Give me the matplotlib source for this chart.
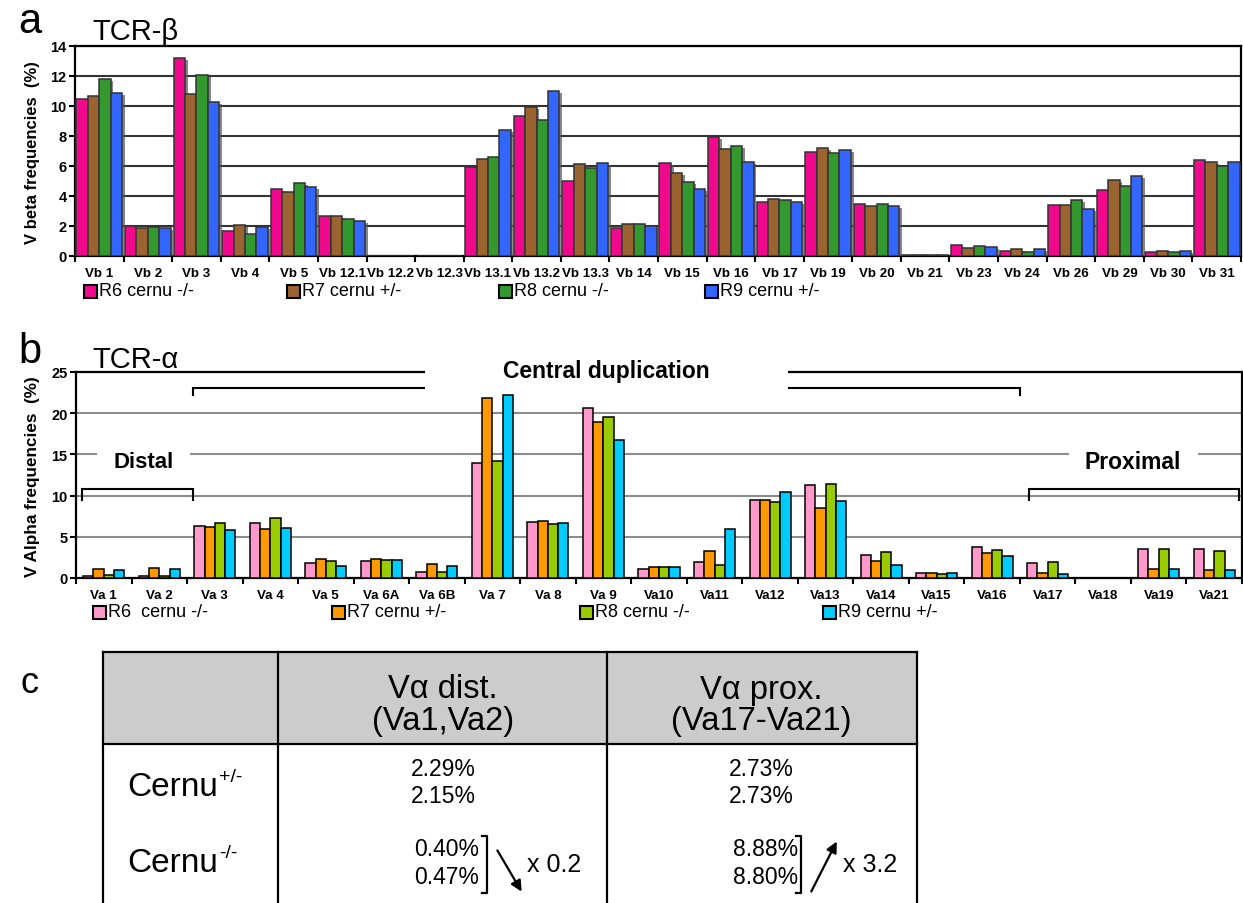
import matplotlib
matplotlib.use('Agg')
import matplotlib.pyplot as plt
import matplotlib.patheffects as pe
from matplotlib.patches import Rectangle
from matplotlib.lines import Line2D
import numpy as np

plt.rcParams['font.family'] = ['Liberation Sans', 'DejaVu Sans']

W, H = 1243, 904

# ---- данные панели a (TCR-beta) ----
vb_labels = ['Vb 1', 'Vb 2', 'Vb 3', 'Vb 4', 'Vb 5', 'Vb 12.1', 'Vb 12.2', 'Vb 12.3',
             'Vb 13.1', 'Vb 13.2', 'Vb 13.3', 'Vb 14', 'Vb 15', 'Vb 16', 'Vb 17', 'Vb 19',
             'Vb 20', 'Vb 21', 'Vb 23', 'Vb 24', 'Vb 26', 'Vb 29', 'Vb 30', 'Vb 31']
vb_r6 = [10.5, 2.0, 13.2, 1.7, 4.44, 2.67, 0, 0, 5.93, 9.31, 4.98, 1.87, 6.18, 7.93, 3.62, 6.96,
         3.47, 0.05, 0.76, 0.33, 3.4, 4.42, 0.27, 6.38]
vb_r7 = [10.7, 1.9, 10.8, 2.07, 4.29, 2.69, 0, 0, 6.44, 9.93, 6.16, 2.11, 5.56, 7.16, 3.78, 7.2,
         3.33, 0.05, 0.56, 0.44, 3.4, 5.07, 0.31, 6.29]
vb_r8 = [11.8, 1.95, 12.1, 1.5, 4.84, 2.49, 0, 0, 6.58, 9.04, 5.89, 2.11, 4.93, 7.33, 3.71, 6.84,
         3.44, 0.05, 0.67, 0.29, 3.76, 4.69, 0.24, 5.98]
vb_r9 = [10.9, 1.87, 10.3, 1.93, 4.6, 2.36, 0, 0, 8.42, 11.0, 6.18, 1.98, 4.44, 6.29, 3.62, 7.04,
         3.31, 0.05, 0.62, 0.44, 3.16, 5.36, 0.31, 6.29]
vb_names = ['R6 cernu -/-', 'R7 cernu +/-', 'R8 cernu -/-', 'R9 cernu +/-']
vb_colors = ['#F0098C', '#9A6330', '#33992F', '#3366FF']

# ---- данные панели b (TCR-alpha) ----
va_labels = ['Va 1', 'Va 2', 'Va 3', 'Va 4', 'Va 5', 'Va 6A', 'Va 6B', 'Va 7', 'Va 8', 'Va 9',
             'Va10', 'Va11', 'Va12', 'Va13', 'Va14', 'Va15', 'Va16', 'Va17', 'Va18', 'Va19', 'Va21']
va_r6 = [0.24, 0.24, 6.27, 6.67, 1.86, 2.1, 0.73, 14.0, 6.84, 20.6, 1.05, 1.98, 9.43, 11.3,
         2.75, 0.61, 3.8, 1.82, 0.05, 3.48, 3.48]
va_r7 = [1.05, 1.21, 6.23, 5.99, 2.27, 2.31, 1.66, 21.8, 6.96, 18.9, 1.33, 3.24, 9.51, 8.54,
         2.1, 0.57, 3.03, 0.65, 0.05, 1.05, 0.93]
va_r8 = [0.32, 0.24, 6.63, 7.24, 2.1, 2.22, 0.73, 14.2, 6.6, 19.5, 1.33, 1.62, 9.18, 11.4,
         3.2, 0.53, 3.44, 1.9, 0.05, 3.48, 3.32]
va_r9 = [0.93, 1.13, 5.83, 6.07, 1.5, 2.22, 1.46, 22.2, 6.67, 16.8, 1.33, 5.99, 10.4, 9.31,
         1.58, 0.65, 2.67, 0.53, 0.05, 1.09, 0.97]
va_names = ['R6  cernu -/-', 'R7 cernu +/-', 'R8 cernu -/-', 'R9 cernu +/-']
va_colors = ['#FF99CC', '#FF9900', '#99CC00', '#00CCFF']

# ---- таблица c ----
tab_rows = ['Cernu', 'Cernu']
tab_sup = ['+/-', '-/-']
dist_het = ['2.29%', '2.15%']
dist_ko = ['0.40%', '0.47%']
prox_het = ['2.73%', '2.73%']
prox_ko = ['8.88%', '8.80%']


def fx(px):
    return px / W


def fy(py):
    return 1 - py / H


fig = plt.figure(figsize=(W / 100, H / 100), dpi=100)


def bar_panel(box, labels, series, colors, ymax, ystep, bw, edge, gridc, shadow):
    l, t, r, b = box
    ax = fig.add_axes([fx(l), fy(b), fx(r - l), (b - t) / H])
    n = len(labels)
    x = np.arange(n)
    for k, (vals, c) in enumerate(zip(series, colors)):
        bars = ax.bar(x + (k - 1.5) * bw, vals, bw, color=c, edgecolor=edge, linewidth=1.1, zorder=3)
        if shadow:
            for p in bars:
                p.set_path_effects([pe.SimplePatchShadow(offset=(2, -1.5), shadow_rgbFace='#555555', alpha=0.7),
                                    pe.Normal()])
    ax.set_xlim(-0.5, n - 0.5)
    ax.set_ylim(0, ymax)
    ticks = np.arange(0, ymax + 0.1, ystep)
    ax.set_yticks(ticks)
    ax.set_yticklabels([str(int(v)) for v in ticks], fontweight='bold', fontsize=10.5)
    ax.set_axisbelow(True)
    ax.yaxis.grid(True, color=gridc, linewidth=1.5, zorder=0)
    ax.set_xticks(np.arange(-0.5, n, 1.0))
    ax.set_xticklabels([])
    ax.set_xticks(x, minor=True)
    ax.set_xticklabels(labels, minor=True, fontweight='bold', fontsize=9.6)
    ax.tick_params(axis='x', which='major', direction='out', length=4, width=1.5)
    ax.tick_params(axis='x', which='minor', length=0, pad=8)
    ax.tick_params(axis='y', direction='out', length=4, width=1.5, pad=2)
    for s in ax.spines.values():
        s.set_linewidth(1.6)
        s.set_color('black')
    return ax


def legend_row(ypx, xs, names, colors):
    for xp, nm, c in zip(xs, names, colors):
        fig.add_artist(Rectangle((fx(xp), fy(ypx + 7)), fx(13), 13 / H, transform=fig.transFigure,
                                 facecolor=c, edgecolor='black', linewidth=1.5))
        fig.text(fx(xp + 15), fy(ypx), nm, fontsize=13, va='center', ha='left')


# ---- панель a ----
ax_a = bar_panel((75, 47, 1241, 257), vb_labels, [vb_r6, vb_r7, vb_r8, vb_r9], vb_colors,
                 14, 2, 0.235, '#333333', '#333333', True)
legend_row(292, [84, 287, 499, 705], vb_names, vb_colors)
fig.text(fx(18), fy(33), 'a', fontsize=30, va='baseline')
fig.text(fx(92), fy(40), 'TCR-β', fontsize=21, va='baseline')
fig.text(fx(33), fy(153), 'V beta frequencies  (%)', rotation=90, fontweight='bold',
         fontsize=12, ha='center', va='center')

# ---- панель b ----
ax_b = bar_panel((76, 373, 1242, 579), va_labels, [va_r6, va_r7, va_r8, va_r9], va_colors,
                 25, 5, 0.185, 'black', '#8C8C8C', False)
legend_row(613, [93, 332, 580, 823], va_names, va_colors)
fig.text(fx(18), fy(363), 'b', fontsize=30, va='baseline')
fig.text(fx(92), fy(368), 'TCR-α', fontsize=21, va='baseline')
fig.text(fx(33), fy(477), 'V Alpha frequencies  (%)', rotation=90, fontweight='bold',
         fontsize=12.3, ha='center', va='center')


def bracket(ax, x0, x1, y, ydrop):
    ax.plot([x0, x0, x1, x1], [y - ydrop, y, y, y - ydrop], color='black', lw=1.5,
            clip_on=False, zorder=4, solid_joinstyle='miter')


# белые подложки под подписями
ax_b.add_patch(Rectangle((-0.12, 13.0), 1.67, 3.0, facecolor='white', edgecolor='none', zorder=1))
ax_b.add_patch(Rectangle((17.39, 13.0), 2.32, 3.0, facecolor='white', edgecolor='none', zorder=1))
bracket(ax_b, -0.39, 1.61, 10.8, 1.3)
bracket(ax_b, 16.66, 20.45, 10.8, 1.3)
bracket(ax_b, 1.61, 16.5, 23.1, 0.9)
ax_b.add_patch(Rectangle((5.79, 22.3), 6.53, 4.2, facecolor='white', edgecolor='none',
                         zorder=5, clip_on=False))
ax_b.text(0.71, 14.1, 'Distal', fontsize=16, fontweight='bold', ha='center', va='center', zorder=6)
ax_b.text(18.54, 14.1, 'Proximal', fontsize=16.5, fontweight='bold', ha='center', va='center', zorder=6)
ax_b.text(9.05, 25.2, 'Central duplication', fontsize=16.5, fontweight='bold', ha='center',
          va='center', zorder=6, clip_on=False)

# ---- панель c (таблица) ----
fig.text(fx(20), fy(693), 'c', fontsize=26, va='baseline')
tl, tr, tt, th = 103, 917, 653, 745
fig.add_artist(Rectangle((fx(tl), fy(th)), fx(tr - tl), (th - tt) / H, transform=fig.transFigure,
                         facecolor='#CCCCCC', edgecolor='none'))
lk = dict(transform=fig.transFigure, color='black', linewidth=1.6)
fig.add_artist(Line2D([fx(tl), fx(tr)], [fy(tt), fy(tt)], **lk))
fig.add_artist(Line2D([fx(tl), fx(tr)], [fy(th), fy(th)], **lk))
for xp in [tl, 278, 607, tr]:
    fig.add_artist(Line2D([fx(xp), fx(xp)], [fy(tt), fy(H + 5)], **lk))

fig.text(fx(443), fy(690), 'Vα dist.', fontsize=23.5, ha='center', va='center')
fig.text(fx(443), fy(722), '(Va1,Va2)', fontsize=23.5, ha='center', va='center')
fig.text(fx(761), fy(690), 'Vα prox.', fontsize=23.5, ha='center', va='center')
fig.text(fx(761), fy(722), '(Va17-Va21)', fontsize=23.5, ha='center', va='center')
for yp, nm, sp in zip([788, 864], tab_rows, tab_sup):
    fig.text(fx(218), fy(yp), nm, fontsize=24, ha='right', va='center')
    fig.text(fx(219), fy(yp - 10), sp, fontsize=14, ha='left', va='center')

for i, yp in enumerate([770, 797]):
    fig.text(fx(443), fy(yp), dist_het[i], fontsize=16.5, ha='center', va='center')
    fig.text(fx(761), fy(yp), prox_het[i], fontsize=16.5, ha='center', va='center')
for i, yp in enumerate([850, 878]):
    fig.text(fx(479), fy(yp), dist_ko[i], fontsize=16.5, ha='right', va='center')
    fig.text(fx(798), fy(yp), prox_ko[i], fontsize=16.5, ha='right', va='center')

for xb in [487, 801]:
    fig.add_artist(Line2D([fx(xb - 5), fx(xb), fx(xb), fx(xb - 5)], [fy(837), fy(837), fy(894), fy(894)], **lk))

fig.add_artist(plt.Annotation('', xy=(fx(523), fy(895)), xytext=(fx(496), fy(849)),
                              xycoords='figure fraction', textcoords='figure fraction',
                              arrowprops=dict(arrowstyle='-|>', color='black', lw=1.6, mutation_scale=16)))
fig.add_artist(plt.Annotation('', xy=(fx(838), fy(840)), xytext=(fx(810), fy(895)),
                              xycoords='figure fraction', textcoords='figure fraction',
                              arrowprops=dict(arrowstyle='-|>', color='black', lw=1.6, mutation_scale=16)))
fig.text(fx(527), fy(865), 'x 0.2', fontsize=18, ha='left', va='center')
fig.text(fx(843), fy(865), 'x 3.2', fontsize=18, ha='left', va='center')

fig.savefig('out.png', dpi=100, facecolor='white')
